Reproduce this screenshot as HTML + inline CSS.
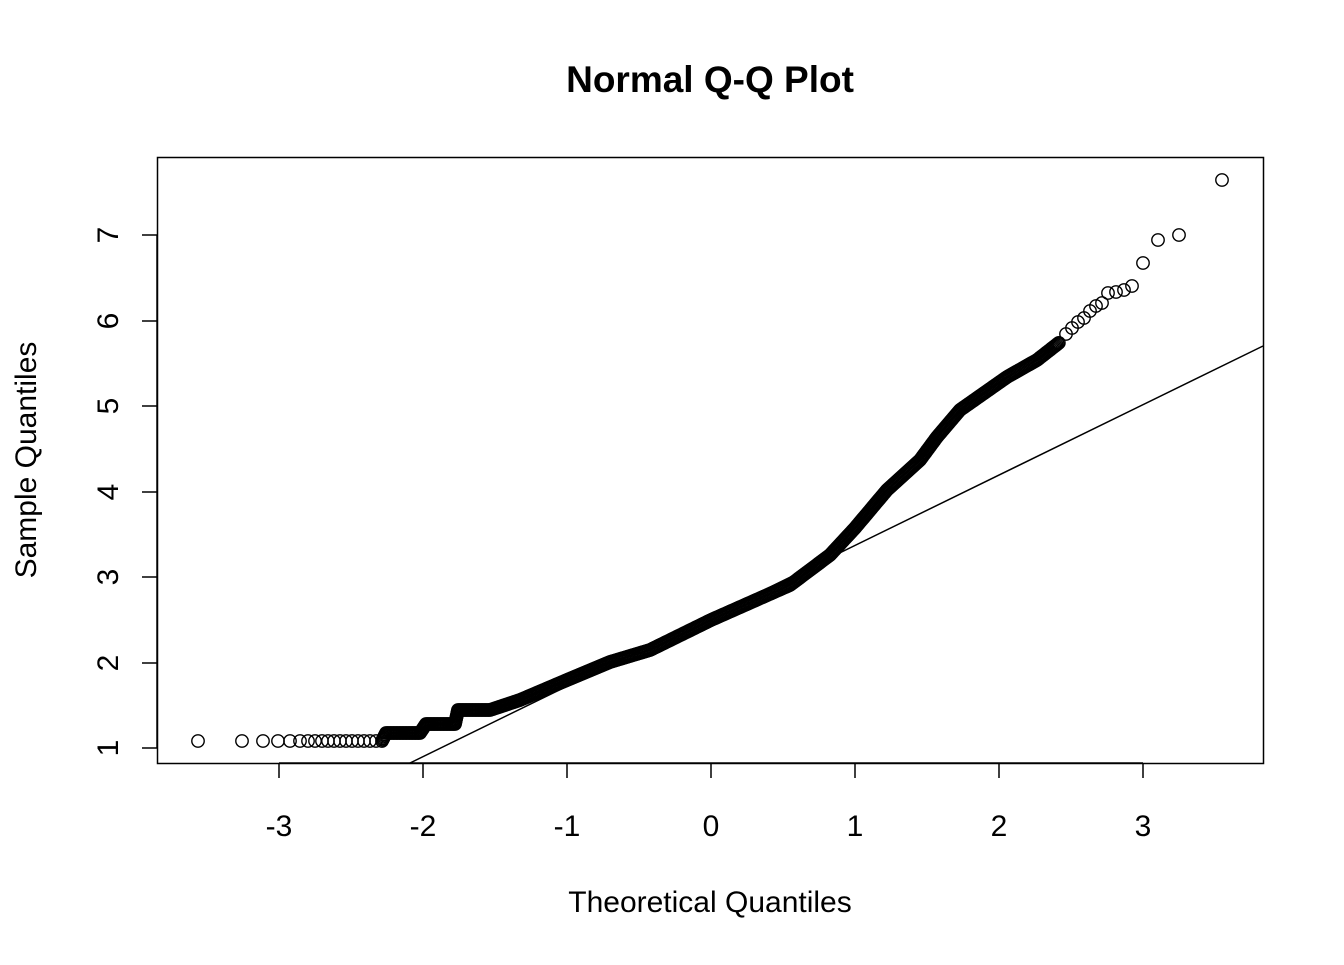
<!DOCTYPE html>
<html><head><style>
body{margin:0;background:#fff}
text{font-family:"Liberation Sans",Arial,sans-serif;fill:#000}
</style></head><body>
<svg id="s" width="1344" height="960" xmlns="http://www.w3.org/2000/svg">
<text x="710" y="92" font-size="37" font-weight="bold" text-anchor="middle">Normal Q-Q Plot</text>
<rect x="157.5" y="157.5" width="1106" height="606" fill="none" stroke="#000" stroke-width="1.5"/>
<g stroke="#000" stroke-width="1.5">
<line x1="279" y1="763" x2="1143" y2="763"/>
<line x1="279" y1="763" x2="279" y2="778"/><line x1="423" y1="763" x2="423" y2="778"/>
<line x1="567" y1="763" x2="567" y2="778"/><line x1="711" y1="763" x2="711" y2="778"/>
<line x1="855" y1="763" x2="855" y2="778"/><line x1="999" y1="763" x2="999" y2="778"/>
<line x1="1143" y1="763" x2="1143" y2="778"/>
<line x1="157" y1="235" x2="157" y2="748"/>
<line x1="142" y1="748" x2="157" y2="748"/><line x1="142" y1="663" x2="157" y2="663"/>
<line x1="142" y1="577" x2="157" y2="577"/><line x1="142" y1="492" x2="157" y2="492"/>
<line x1="142" y1="406" x2="157" y2="406"/><line x1="142" y1="321" x2="157" y2="321"/>
<line x1="142" y1="235" x2="157" y2="235"/>
<line x1="410" y1="763" x2="1263" y2="346"/>
</g>
<g font-size="30" text-anchor="middle">
<text x="279" y="836">-3</text><text x="423" y="836">-2</text><text x="567" y="836">-1</text>
<text x="711" y="836">0</text><text x="855" y="836">1</text><text x="999" y="836">2</text><text x="1143" y="836">3</text>
<text x="710" y="912">Theoretical Quantiles</text>
</g>
<g font-size="30" text-anchor="middle">
<text transform="translate(120,748) rotate(-90)" dy="-2">1</text>
<text transform="translate(120,663) rotate(-90)" dy="-2">2</text>
<text transform="translate(120,577) rotate(-90)" dy="-2">3</text>
<text transform="translate(120,492) rotate(-90)" dy="-2">4</text>
<text transform="translate(120,406) rotate(-90)" dy="-2">5</text>
<text transform="translate(120,321) rotate(-90)" dy="-2">6</text>
<text transform="translate(120,235) rotate(-90)" dy="-2">7</text>
<text transform="translate(36,460) rotate(-90)">Sample Quantiles</text>
</g>
<g id="pts" fill="none" stroke="#000" stroke-width="1.4"></g>
</svg>
<script>
var g=document.getElementById('pts'),ns='http://www.w3.org/2000/svg';
function c(x,y){var e=document.createElementNS(ns,'circle');e.setAttribute('cx',x);e.setAttribute('cy',y);e.setAttribute('r',6.2);g.appendChild(e);}
[198,242,263,278,290,300,308,315,322,328,334,340,346,352,358,364,370,376].forEach(function(x){c(x,741)});
var k=[[382,741],[386,733],[420,733],[426,724],[455,724],[458,710],[490,710],[520,700],[567,680],[610,662],[650,650],[711,620],[790,585],[830,555],[855,528],[887,490],[920,460],[937,437],[960,410],[1007,377],[1037,360],[1060,342]];
for(var i=0;i<k.length-1;i++){var a=k[i],b=k[i+1],d=Math.hypot(b[0]-a[0],b[1]-a[1]),n=Math.max(1,Math.ceil(d/1.5));for(var j=0;j<n;j++){c(a[0]+(b[0]-a[0])*j/n,a[1]+(b[1]-a[1])*j/n);}}
[[1066,334],[1072,328],[1078,322],[1084,318],[1090,311],[1096,306],[1102,303],[1108,293],[1116,292],[1124,290],[1132,286],[1143,263],[1158,240],[1179,235],[1222,180]].forEach(function(p){c(p[0],p[1])});
</script>
</body></html>
